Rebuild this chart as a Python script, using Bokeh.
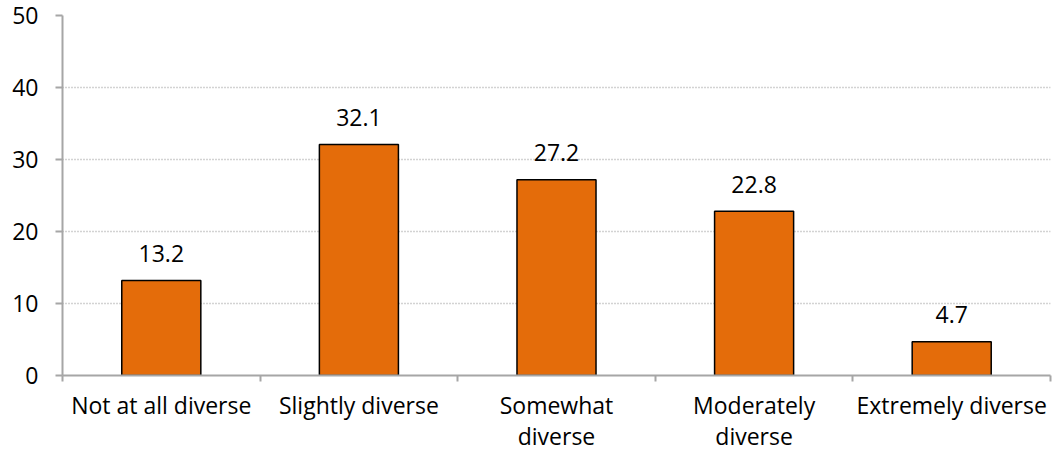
from bokeh.plotting import figure
from bokeh.models import Range1d, FixedTicker, ColumnDataSource
from bokeh.core.properties import value
from bokeh.embed import file_html
from bokeh.resources import INLINE

categories = ["Not at all diverse", "Slightly diverse", "Somewhat\ndiverse",
              "Moderately\ndiverse", "Extremely diverse"]
percentages = [13.2, 32.1, 27.2, 22.8, 4.7]
y_ticks = [0, 10, 20, 30, 40, 50]

FONT = "Open Sans"
FONT_SIZE = "23px"
BAR_COLOR = "#E46C0A"
AXIS_GRAY = "#A6A6A6"

centers = [i + 0.5 for i in range(len(categories))]
source = ColumnDataSource(data=dict(
    x=centers,
    top=percentages,
    label=[f"{v:.1f}" for v in percentages],
))

p = figure(width=1054, height=454, output_backend="svg", toolbar_location=None,
           x_range=Range1d(0, len(categories)), y_range=Range1d(0, 50),
           min_border_left=62, min_border_right=4, min_border_top=15,
           min_border_bottom=79)
p.outline_line_color = None
p.background_fill_color = "white"
p.border_fill_color = "white"

p.vbar(x="x", top="top", bottom=0, width=0.4, source=source,
       fill_color=BAR_COLOR, line_color="black", line_width=1.5)

p.text(x="x", y="top", text="label", source=source,
       text_align="center", text_baseline="middle", y_offset=-27,
       text_font=value(FONT), text_font_size=FONT_SIZE, text_color="black")

# y axis
p.yaxis.ticker = FixedTicker(ticks=y_ticks)
p.yaxis.axis_line_color = AXIS_GRAY
p.yaxis.axis_line_width = 2
p.yaxis.major_tick_line_color = AXIS_GRAY
p.yaxis.major_tick_line_width = 2
p.yaxis.major_tick_out = 7
p.yaxis.major_tick_in = 0
p.yaxis.minor_tick_line_color = None
p.yaxis.major_label_standoff = 17
p.yaxis.major_label_text_font = FONT
p.yaxis.major_label_text_font_size = FONT_SIZE
p.yaxis.major_label_text_color = "black"

# x axis: labels at category centres, ticks at category boundaries
p.xaxis.ticker = FixedTicker(ticks=centers,
                             minor_ticks=list(range(len(categories) + 1)))
p.xaxis.major_label_overrides = {c: name for c, name in zip(centers, categories)}
p.xaxis.axis_line_color = AXIS_GRAY
p.xaxis.axis_line_width = 2
p.xaxis.major_tick_line_color = None
p.xaxis.minor_tick_line_color = AXIS_GRAY
p.xaxis.minor_tick_line_width = 2
p.xaxis.minor_tick_out = 6
p.xaxis.minor_tick_in = 0
p.xaxis.major_tick_out = 6
p.xaxis.major_label_standoff = 7
p.xaxis.major_label_text_font = FONT
p.xaxis.major_label_text_font_size = FONT_SIZE
p.xaxis.major_label_text_color = "black"
p.xaxis.major_label_text_line_height = 0.97

p.xgrid.grid_line_color = None
p.ygrid.ticker = FixedTicker(ticks=y_ticks[1:])
p.ygrid.grid_line_color = AXIS_GRAY
p.ygrid.grid_line_width = 1.5
p.ygrid.grid_line_dash = "1 2"

open("out.html", "w").write(file_html(p, INLINE))
